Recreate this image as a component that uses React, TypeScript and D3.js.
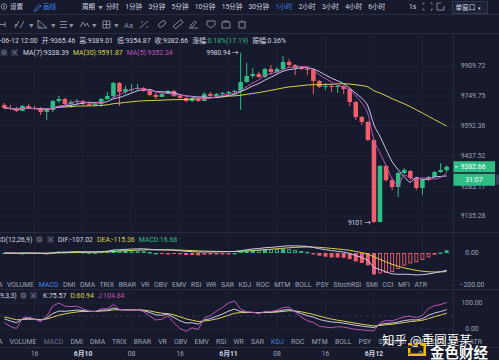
import React from 'react';
import * as d3 from 'd3';

// ---------- data (1h candles, 2020-06-09 11:00 .. 2020-06-12 12:00) ----------
const opens = [
  9702.5, 9686.7, 9681.5, 9671.0, 9697.2, 9686.7, 9681.5, 9665.7, 9676.2, 9723.5,
  9734.1, 9707.7, 9718.3, 9723.5, 9707.7, 9702.5, 9707.7, 9734.1, 9750.1, 9819.0,
  9771.3, 9781.8, 9787.1, 9792.5, 9776.6, 9755.4, 9744.6, 9760.7, 9776.6, 9750.1,
  9739.3, 9723.5, 9739.3, 9723.5, 9760.7, 9750.1, 9760.7, 9766.0, 9771.3, 9776.6,
  9824.3, 9856.3, 9867.0, 9851.0, 9893.8, 9877.7, 9893.8, 9931.4, 9915.3, 9899.2,
  9893.8, 9888.5, 9829.7, 9797.8, 9803.1, 9797.8, 9803.1, 9787.1, 9718.3, 9639.5,
  9613.3, 9519.9, 9105.6, 9386.5, 9315.5, 9280.2, 9350.9, 9361.1, 9325.6, 9275.1,
  9315.5, 9330.7, 9356.0, 9365.46,
];
const highs = [
  9713.0, 9702.5, 9692.0, 9702.5, 9707.7, 9697.2, 9692.0, 9686.7, 9728.8, 9750.1,
  9739.3, 9728.8, 9734.1, 9728.8, 9718.3, 9718.3, 9739.3, 9771.3, 9824.3, 9824.3,
  9803.1, 9813.7, 9813.7, 9797.8, 9787.1, 9766.0, 9771.3, 9781.8, 9781.8, 9755.4,
  9744.6, 9744.6, 9744.6, 9771.3, 9771.3, 9766.0, 9771.3, 9776.6, 9781.8, 9980.94,
  9926.1, 9899.2, 9877.7, 9899.2, 9915.3, 9904.5, 9963.8, 9947.6, 9920.7, 9904.5,
  9904.5, 9899.2, 9835.0, 9819.0, 9808.4, 9808.4, 9808.4, 9792.5, 9723.5, 9644.7,
  9618.6, 9525.1, 9391.6, 9391.6, 9325.6, 9356.0, 9376.4, 9366.1, 9330.7, 9320.5,
  9335.7, 9361.1, 9401.8, 9389.01,
];
const lows = [
  9681.5, 9676.2, 9665.7, 9671.0, 9681.5, 9676.2, 9650.0, 9623.8, 9665.7, 9713.0,
  9697.2, 9686.7, 9707.7, 9702.5, 9697.2, 9697.2, 9692.0, 9728.8, 9739.3, 9697.2,
  9760.7, 9771.3, 9776.6, 9771.3, 9750.1, 9734.1, 9744.6, 9760.7, 9744.6, 9734.1,
  9718.3, 9718.3, 9718.3, 9723.5, 9744.6, 9744.6, 9750.1, 9755.4, 9760.7, 9676.2,
  9819.0, 9845.6, 9845.6, 9845.6, 9861.6, 9872.3, 9888.5, 9904.5, 9861.6, 9888.5,
  9861.6, 9760.7, 9792.5, 9781.8, 9771.3, 9766.0, 9760.7, 9697.2, 9623.8, 9597.7,
  9514.7, 9101.0, 9103.0, 9305.4, 9265.1, 9229.9, 9345.9, 9315.5, 9265.1, 9240.0,
  9310.4, 9330.7, 9350.9, 9354.87,
];
const closes = [
  9686.7, 9681.5, 9671.0, 9697.2, 9686.7, 9681.5, 9665.7, 9676.2, 9723.5, 9734.1,
  9707.7, 9718.3, 9723.5, 9707.7, 9702.5, 9707.7, 9734.1, 9750.1, 9819.0, 9771.3,
  9787.1, 9787.1, 9792.5, 9776.6, 9755.4, 9744.6, 9760.7, 9776.6, 9750.1, 9739.3,
  9723.5, 9739.3, 9723.5, 9760.7, 9750.1, 9760.7, 9766.0, 9771.3, 9776.6, 9824.3,
  9856.3, 9867.0, 9851.0, 9893.8, 9877.7, 9893.8, 9931.4, 9915.3, 9899.2, 9893.8,
  9888.5, 9829.7, 9797.8, 9803.1, 9797.8, 9803.1, 9787.1, 9718.3, 9639.5, 9613.3,
  9519.9, 9105.6, 9386.5, 9315.5, 9280.2, 9350.9, 9366.1, 9325.6, 9275.1, 9315.5,
  9330.7, 9356.0, 9366.1, 9382.66,
];

const priceTicks = [9909.72, 9749.75, 9592.36, 9437.52, 9283.17, 9135.28];
const macdTicks = [0, -200];
const kdjTicks = [100, 0];
const lastPrice = '9382.66';
const countdown = '31:07';

const periodTabs = ['分时', '1分钟', '3分钟', '5分钟', '10分钟', '15分钟', '30分钟', '1小时', '2小时', '3小时', '4小时', '6小时'];
const activePeriod = '1小时';
const indicatorTabs = ['MA', 'VOLUME', 'MACD', 'DMI', 'DMA', 'TRIX', 'BRAR', 'VR', 'OBV', 'EMV', 'RSI', 'WR', 'SAR', 'KDJ', 'ROC', 'MTM', 'BOLL', 'PSY', 'StochRSI', 'SMI', 'CCI', 'MFI', 'ATR'];

const headerParts = ['2020-06-12 12:00', '开:9365.46', '高:9389.01', '低:9354.87', '收:9382.66', '涨幅:'];
const headerChange = '0.18%(17.19)';
const headerAmp = '振幅:0.36%';
const maLegend = ['MA(7):9338.39', 'MA(30):9591.87', 'MA(5):9352.34'];
const macdLegend = ['DIF:-107.02', 'DEA:-115.36', 'MACD:16.68'];
const kdjLegend = ['K:75.57', 'D:60.94', 'J:104.84'];

// ---------- style ----------
const FONT = 'Roboto, "Noto Sans CJK SC", "Noto Sans", sans-serif';
const BG = '#161a2c';
const GRID = '#1d2234';
const SEP = '#272c41';
const GREY = '#9ea3b6';
const WHITE = '#d3d6e2';
const BLUE = '#3f80e8';
const GREEN = '#2ebd85';
const RED = '#ef5f6b';
const YELLOW = '#d8d24c';
const PINK = '#c153b6';
const LAV = '#cdc8ee';

export default function App() {
  const W = 499, H = 360;
  const n = closes.length;
  const idx = d3.range(n);
  const axisX = 453.5;
  const x = d3.scaleBand<number>().domain(idx).range([1.3, 449.7]).paddingInner(0.25).paddingOuter(0.125);
  const bw = x.bandwidth();
  const cx = (i: number) => (x(i) as number) + bw / 2;

  const mainTop = 33.5, mainBot = 232.5, macdBot = 289.5, kdjBot = 347.5;
  const y = d3.scaleLog().domain([9135.28, 9909.72]).range([216, 66]);
  const yM = d3.scaleLinear().domain([-200, 0]).range([285, 253]);
  const yK = d3.scaleLinear().domain([0, 100]).range([329, 303]);

  // indicators
  const sma = (p: number) => closes.map((_, i) => d3.mean(closes.slice(Math.max(0, i - p + 1), i + 1)) as number);
  const ema = (arr: number[], p: number) => {
    const a = 2 / (p + 1);
    const out: number[] = [];
    arr.forEach((v, i) => out.push(i === 0 ? v : a * v + (1 - a) * out[i - 1]));
    return out;
  };
  const ma7 = sma(7), ma30 = sma(30), ma5 = sma(5);
  const e12 = ema(closes, 12), e26 = ema(closes, 26);
  const dif = e12.map((v, i) => v - e26[i]);
  const dea = ema(dif, 9);
  const hist = dif.map((v, i) => 2 * (v - dea[i]));
  const kArr: number[] = [], dArr: number[] = [], jArr: number[] = [];
  let K = 50, D = 50;
  idx.forEach((i) => {
    const lo = d3.min(lows.slice(Math.max(0, i - 8), i + 1)) as number;
    const hi = d3.max(highs.slice(Math.max(0, i - 8), i + 1)) as number;
    const rsv = hi === lo ? 50 : ((closes[i] - lo) / (hi - lo)) * 100;
    K = (2 * K + rsv) / 3;
    D = (2 * D + K) / 3;
    kArr.push(K); dArr.push(D); jArr.push(3 * K - 2 * D);
  });

  const lineP = (arr: number[]) => d3.line<number>().x((_, i) => cx(i)).y((v) => y(v)).curve(d3.curveMonotoneX)(arr) as string;
  const lineM = (arr: number[]) => d3.line<number>().x((_, i) => cx(i)).y((v) => yM(v))(arr) as string;
  const lineK = (arr: number[]) => d3.line<number>().x((_, i) => cx(i)).y((v) => yK(v))(arr) as string;

  // time ticks
  const start = new Date(2020, 5, 9, 11);
  const times = idx.map((i) => d3.timeHour.offset(start, i));
  const tickIdx = idx.filter((i) => times[i].getHours() % 8 === 0);
  const fmtTick = (t: Date) => (t.getHours() === 0 ? `${t.getMonth() + 1}月${t.getDate()}` : d3.timeFormat('%H')(t));

  const hiIdx = d3.maxIndex(highs);
  const loIdx = d3.minIndex(lows);

  const iconStroke = '#8d92a6';

  return (
    <svg width={W} height={H} style={{ position: 'absolute', left: 0, top: 0, display: 'block', background: BG }} fontFamily={FONT}>
      <defs>
        <clipPath id="cMain"><rect x={0} y={mainTop} width={axisX} height={mainBot - mainTop} /></clipPath>
        <clipPath id="cMacd"><rect x={0} y={mainBot} width={axisX} height={macdBot - mainBot} /></clipPath>
        <clipPath id="cKdj"><rect x={0} y={macdBot} width={axisX} height={kdjBot - macdBot} /></clipPath>
      </defs>
      <rect x={0} y={0} width={W} height={H} fill={BG} />

      {/* ---------- toolbar row 1 ---------- */}
      <g fontSize={6.6} fill={WHITE}>
        <circle cx={4} cy={6.5} r={2.8} fill="none" stroke={iconStroke} strokeWidth={0.9} />
        <circle cx={4} cy={6.5} r={1} fill={iconStroke} />
        <text x={10} y={9}>设置</text>
        <path d="M34.5,10 L39.5,4.5 L41,6 L36,11 L34.5,11 Z" fill="none" stroke={BLUE} strokeWidth={0.9} />
        <text x={43} y={9} fill={BLUE}>画线</text>
        <text x={82} y={9}>
          <tspan>周期</tspan>
          <tspan dx={3} fontSize={4.5} fill={GREY}>▼</tspan>
          {periodTabs.map((t) => (
            <tspan key={t} dx={t === '分时' ? 3 : 6.3} fill={t === activePeriod ? BLUE : WHITE}>{t}</tspan>
          ))}
        </text>
        <text x={409} y={9}>1s</text>
        <g stroke={iconStroke} strokeWidth={0.9} fill="none">
          <path d="M423,4.5 v-1.5 h1.5 M430.5,3 h1.5 v1.5 M432,8.5 v1.5 h-1.5 M424.5,10 h-1.5 v-1.5" />
          <path d="M441,3 h-4 v7 h7 v-4" />
        </g>
        <rect x={452.5} y={1.5} width={35} height={12} fill="#1c2136" stroke="#3a4163" strokeWidth={0.8} />
        <text x={455.5} y={9.5}>单窗口</text>
        <text x={478} y={9.5} fontSize={5}>▾</text>
      </g>
      <line x1={0} x2={W} y1={14.5} y2={14.5} stroke={SEP} />

      {/* ---------- toolbar row 2 (drawing tools) ---------- */}
      <g stroke={iconStroke} strokeWidth={0.9} fill="none">
        <path d="M0,24.5 h5 M5,22 v5" />
        <path d="M15,28 l4,-7 M20,28 l4,-7" />
        <circle cx={16} cy={25} r={0.8} fill={iconStroke} />
        <path d="M38,28 h9 l-9,-8 z M40,28 v-2" />
        <path d="M60,21.5 h7 M60,24.5 h7 M60,27.5 h7" />
        <path d="M80,27 l3,-5 l2,4 l2,-3 l2,4" />
        <path d="M103,21 h7 v7 h-7 z M106.5,21 v7 M103,24.5 h7" />
        <path d="M140,28 l8,-7 M141,23 l2,-2 M146,28 l2,-2" />
        <rect x={158} y={22} width={8} height={4} rx={2} transform="rotate(-40 162 24)" />
        <rect x={173} y={22.5} width={10} height={3.5} transform="rotate(-40 178 24)" />
        <path d="M189,28 h9 M190,26 l5,-5 l1.5,1.5 l-5,5 z" />
        <path d="M207,21 h8 v4 l-4,3 l-4,-3 z" />
        <path d="M222,22 h8 v6 h-8 z M224,22 v-1 h4 v1" />
        <path d="M238,22 h8 M239,22 v6 h6 v-6 M241,21 h2" />
      </g>
      <g fill={iconStroke} fontSize={4.5}>
        <text x={29} y={26.5}>▼</text>
        <text x={51} y={26.5}>▼</text>
        <text x={69} y={26.5}>▼</text>
        <text x={92} y={26.5}>▼</text>
        <text x={114} y={26.5}>▼</text>
      </g>
      <text x={124} y={27.5} fontSize={7.5} fill={iconStroke}>Aa</text>
      <line x1={0} x2={W} y1={33.5} y2={33.5} stroke={SEP} />

      {/* ---------- grid ---------- */}
      <g stroke={GRID} strokeWidth={1}>
        {tickIdx.map((i) => (
          <line key={`vg${i}`} x1={cx(i)} x2={cx(i)} y1={mainTop} y2={kdjBot} />
        ))}
        {priceTicks.map((p) => (
          <line key={`hg${p}`} x1={0} x2={axisX} y1={y(p)} y2={y(p)} />
        ))}
        {macdTicks.map((v) => (
          <line key={`mg${v}`} x1={0} x2={axisX} y1={yM(v)} y2={yM(v)} />
        ))}
        {kdjTicks.map((v) => (
          <line key={`kg${v}`} x1={0} x2={axisX} y1={yK(v)} y2={yK(v)} />
        ))}
      </g>
      <line x1={0} x2={axisX} y1={yK(50)} y2={yK(50)} stroke="#2f3550" strokeDasharray="3,3" />

      {/* ---------- candles ---------- */}
      <g clipPath="url(#cMain)">
        {idx.map((i) => {
          const up = closes[i] >= opens[i];
          const col = up ? GREEN : RED;
          const yo = y(opens[i]), yc = y(closes[i]);
          const top = Math.min(yo, yc);
          const h = Math.max(1, Math.abs(yo - yc));
          return (
            <g key={`c${i}`}>
              <line x1={cx(i)} x2={cx(i)} y1={y(highs[i])} y2={y(lows[i])} stroke={col} strokeWidth={1} />
              <rect x={x(i)} y={top} width={bw} height={h} fill={col} />
            </g>
          );
        })}
        <path d={lineP(ma30)} fill="none" stroke={YELLOW} strokeWidth={1} />
        <path d={lineP(ma7)} fill="none" stroke={LAV} strokeWidth={1} />
        <path d={lineP(ma5)} fill="none" stroke={PINK} strokeWidth={1} />
      </g>

      {/* high / low markers */}
      <text x={cx(hiIdx) - 2} y={y(highs[hiIdx]) + 2.5} textAnchor="end" fontSize={6.6} fill={WHITE}>
        {d3.format('.2f')(highs[hiIdx])} →
      </text>
      <text x={cx(loIdx) - 3} y={y(lows[loIdx]) + 2.5} textAnchor="end" fontSize={6.6} fill={WHITE}>
        {d3.format('d')(lows[loIdx])} →
      </text>

      {/* header info */}
      <text x={-16} y={42.5} fontSize={6.9} fill={WHITE}>
        {headerParts.map((t, k) => (
          <tspan key={t} dx={k === 0 ? 0 : 4}>{t}</tspan>
        ))}
        <tspan fill={GREEN}>{headerChange}</tspan>
        <tspan dx={4}>{headerAmp}</tspan>
      </text>
      <g>
        <rect x={0.5} y={49} width={7} height={7} fill="#2a2f46" />
        <circle cx={4} cy={52.5} r={1.8} fill="none" stroke={iconStroke} strokeWidth={0.8} />
        <rect x={11} y={49} width={7} height={7} fill="#2a2f46" />
        <path d="M12.5,50.5 l4,4 M16.5,50.5 l-4,4" stroke={iconStroke} strokeWidth={0.8} />
      </g>
      <text x={23} y={55} fontSize={6.9}>
        <tspan fill={WHITE}>{maLegend[0]}</tspan>
        <tspan dx={4} fill={YELLOW}>{maLegend[1]}</tspan>
        <tspan dx={4} fill={PINK}>{maLegend[2]}</tspan>
      </text>

      {/* ---------- MACD ---------- */}
      <g clipPath="url(#cMacd)">
        {idx.map((i) => {
          const v = hist[i];
          const prev = i > 0 ? hist[i - 1] : 0;
          const col = v >= 0 ? GREEN : RED;
          const filled = Math.abs(v) >= Math.abs(prev);
          const y0 = yM(0), y1 = yM(v);
          const top = Math.min(y0, y1);
          const h = Math.max(1, Math.abs(y1 - y0));
          return filled ? (
            <rect key={`h${i}`} x={(x(i) as number) + 0.3} y={top} width={bw - 0.6} height={h} fill={col} />
          ) : (
            <rect key={`h${i}`} x={(x(i) as number) + 0.8} y={top + 0.5} width={bw - 1.6} height={Math.max(0.5, h - 1)} fill="none" stroke={col} strokeWidth={0.9} />
          );
        })}
        <path d={lineM(dea)} fill="none" stroke={YELLOW} strokeWidth={1} />
        <path d={lineM(dif)} fill="none" stroke={LAV} strokeWidth={1} />
      </g>
      <text x={-14} y={241.5} fontSize={6.9} fill={WHITE}>MACD(12,26,9)</text>
      <g>
        <rect x={36} y={236} width={7} height={7} fill="#2a2f46" />
        <circle cx={39.5} cy={239.5} r={1.8} fill="none" stroke={iconStroke} strokeWidth={0.8} />
        <rect x={47} y={236} width={7} height={7} fill="#2a2f46" />
        <path d="M48.5,237.5 l4,4 M52.5,237.5 l-4,4" stroke={iconStroke} strokeWidth={0.8} />
      </g>
      <text x={58} y={241.5} fontSize={6.9}>
        <tspan fill={WHITE}>{macdLegend[0]}</tspan>
        <tspan dx={4} fill={YELLOW}>{macdLegend[1]}</tspan>
        <tspan dx={4} fill={GREEN}>{macdLegend[2]}</tspan>
      </text>
      <text x={-8} y={286.5} fontSize={6.9} fill={GREY}>
        {indicatorTabs.map((t, k) => (
          <tspan key={`a${t}`} dx={k === 0 ? 0 : 4.7} fill={t === 'MACD' ? BLUE : GREY}>{t}</tspan>
        ))}
      </text>

      {/* ---------- KDJ ---------- */}
      <g clipPath="url(#cKdj)">
        <path d={lineK(dArr)} fill="none" stroke={YELLOW} strokeWidth={1} />
        <path d={lineK(kArr)} fill="none" stroke={LAV} strokeWidth={1} />
        <path d={lineK(jArr)} fill="none" stroke={PINK} strokeWidth={1} />
      </g>
      <text x={-15} y={297.5} fontSize={6.9} fill={WHITE}>KDJ(9,3,3)</text>
      <g>
        <rect x={20} y={292} width={7} height={7} fill="#2a2f46" />
        <circle cx={23.5} cy={295.5} r={1.8} fill="none" stroke={iconStroke} strokeWidth={0.8} />
        <rect x={30} y={292} width={7} height={7} fill="#2a2f46" />
        <path d="M31.5,293.5 l4,4 M35.5,293.5 l-4,4" stroke={iconStroke} strokeWidth={0.8} />
      </g>
      <text x={43} y={297.5} fontSize={6.9}>
        <tspan fill={WHITE}>{kdjLegend[0]}</tspan>
        <tspan dx={4} fill={YELLOW}>{kdjLegend[1]}</tspan>
        <tspan dx={4} fill={PINK}>{kdjLegend[2]}</tspan>
      </text>
      <text x={-8} y={343.5} fontSize={6.9} fill={GREY}>
        {indicatorTabs.map((t, k) => (
          <tspan key={`b${t}`} dx={k === 0 ? 0 : 7.2} fill={t === 'KDJ' ? BLUE : t === 'MACD' ? '#6b7086' : GREY}>{t}</tspan>
        ))}
      </text>

      {/* ---------- separators & axes ---------- */}
      <g stroke={SEP}>
        <line x1={0} x2={W} y1={mainBot} y2={mainBot} />
        <line x1={0} x2={W} y1={macdBot} y2={macdBot} />
        <line x1={0} x2={W} y1={kdjBot} y2={kdjBot} />
        <line x1={axisX} x2={axisX} y1={mainTop} y2={kdjBot} />
      </g>
      <g fontSize={6.8} fill={GREY} textAnchor="middle">
        {priceTicks.map((p) => (
          <text key={`pt${p}`} x={473} y={y(p) + 2.4}>{d3.format('.2f')(p)}</text>
        ))}
        {macdTicks.map((v) => (
          <text key={`mt${v}`} x={472} y={yM(v) + 2.4}>{d3.format('.2f')(v)}</text>
        ))}
        {kdjTicks.map((v) => (
          <text key={`kt${v}`} x={472} y={yK(v) + 2.4}>{d3.format('.2f')(v)}</text>
        ))}
      </g>
      {/* last price tag */}
      <rect x={453.5} y={y(closes[n - 1]) - 5.5} width={41.5} height={11} fill={GREEN} />
      <line x1={455} x2={457.5} y1={y(closes[n - 1])} y2={y(closes[n - 1])} stroke="#ffffff" />
      <text x={473} y={y(closes[n - 1]) + 2.5} fontSize={6.9} fill="#ffffff" textAnchor="middle">{lastPrice}</text>
      <rect x={453.5} y={y(closes[n - 1]) + 7} width={41.5} height={12} fill={GREEN} />
      <text x={474} y={y(closes[n - 1]) + 15.5} fontSize={6.9} fill="#ffffff" textAnchor="middle">{countdown}</text>
      <rect x={495.5} y={y(closes[n - 1]) + 8} width={3.5} height={10} fill="#3a3f57" />

      {/* time axis */}
      <g fontSize={6.8} textAnchor="middle">
        {tickIdx.map((i) => {
          const isDate = times[i].getHours() === 0;
          return (
            <text key={`tt${i}`} x={cx(i)} y={356} fill={isDate ? WHITE : GREY} fontWeight={isDate ? 700 : 400}>
              {fmtTick(times[i])}
            </text>
          );
        })}
      </g>

      {/* watermark */}
      <g fill="#ffffff" stroke="rgba(0,0,0,0.35)" strokeWidth={0.6} paintOrder="stroke">
        <text x={382} y={345} fontSize={12.5} fontFamily='"Noto Sans CJK SC", sans-serif'>知乎 @重圆夏某</text>
        <text x={430} y={357.5} fontSize={14.5} fontWeight={700} fontFamily='"Noto Sans CJK SC", sans-serif'>金色财经</text>
      </g>
      <g fill="#f0b90b">
        <rect x={408} y={343} width={4} height={2.5} />
        <rect x={414} y={343} width={4} height={2.5} />
        <rect x={420} y={343} width={6} height={2.5} />
        <rect x={423.5} y={343} width={2.5} height={13} />
        <rect x={408} y={353.5} width={18} height={2.5} />
        <rect x={408} y={348} width={2.5} height={5} />
      </g>
    </svg>
  );
}
